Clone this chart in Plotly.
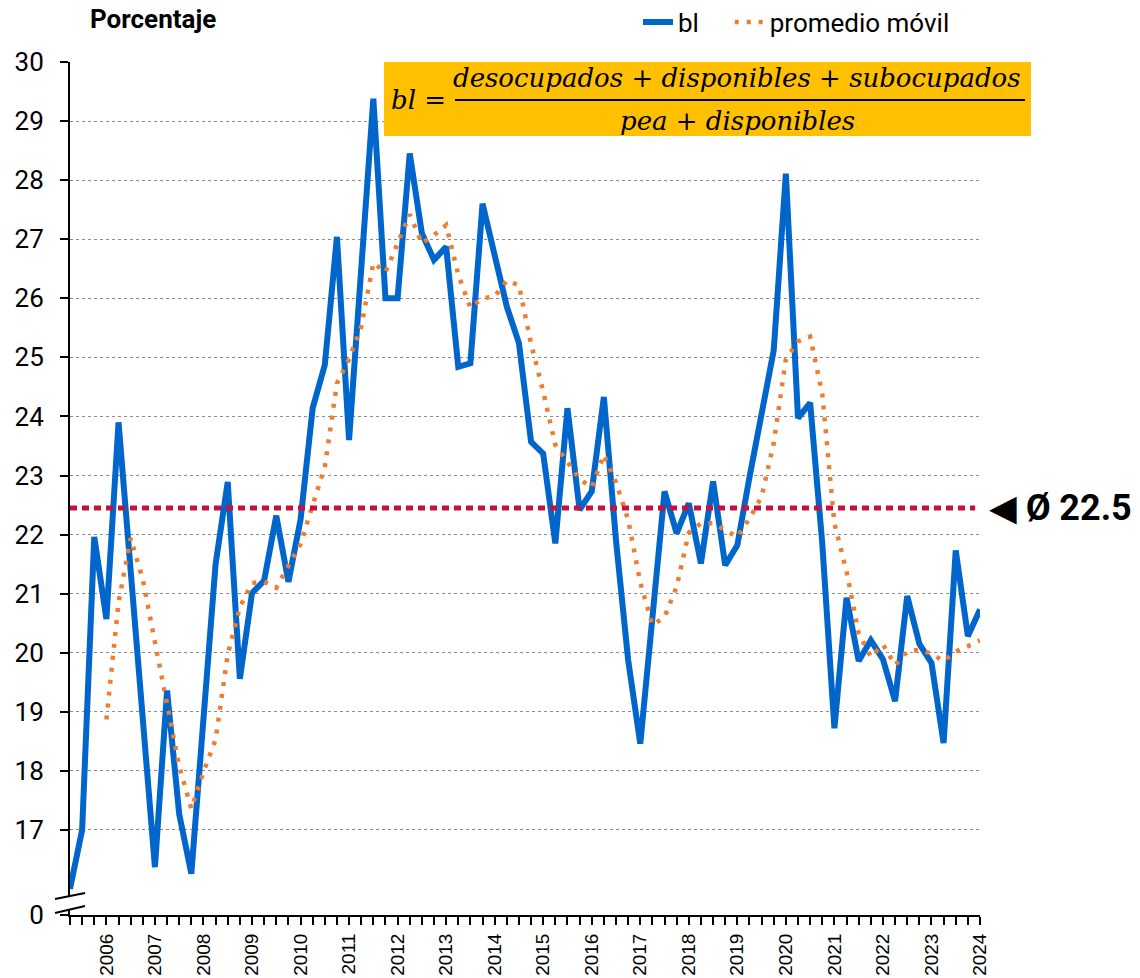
import plotly.graph_objects as go

# ---------------- data ----------------
years = [str(y) for y in range(2006, 2025)]
quarters = [f"{y}-T{q}" for y in range(2006, 2025) for q in range(1, 5)]

bl = [16.0, 17.0, 21.96, 20.57, 23.9, 21.4, 19.0, 16.37, 19.36, 17.27,
      16.26, 19.0, 21.5, 22.89, 19.56, 21.01, 21.22, 22.32, 21.2, 22.25,
      24.14, 24.87, 27.04, 23.6, 26.4, 29.38, 26.0, 26.0, 28.45, 27.1,
      26.65, 26.87, 24.84, 24.9, 27.6, 26.7, 25.86, 25.24, 23.57, 23.37,
      21.85, 24.14, 22.42, 22.73, 24.33, 21.9, 19.88, 18.46, 20.64, 22.73,
      22.02, 22.53, 21.51, 22.9, 21.48, 21.82, 22.97, 24.1, 25.12, 28.11,
      23.97, 24.23, 21.85, 18.72, 20.93, 19.86, 20.21, 19.89, 19.18, 20.96,
      20.15, 19.83, 18.47, 21.73, 20.28, 20.73]

promedio_movil = [None, None, None, 18.87, 20.85, 21.94, 21.24, 20.18, 19.1, 18.08,
                  17.36, 17.98, 18.53, 19.97, 20.77, 21.18, 21.2, 21.1, 21.47, 21.84,
                  22.5, 23.14, 24.56, 24.97, 25.52, 26.6, 26.44, 26.93, 27.42, 26.93,
                  27.07, 27.24, 26.4, 25.84, 26.0, 26.03, 26.3, 26.22, 25.23, 24.42,
                  23.52, 23.23, 22.94, 22.8, 23.35, 22.88, 22.25, 21.19, 20.47, 20.6,
                  21.12, 22.03, 22.19, 22.19, 22.08, 21.96, 22.27, 22.64, 23.55, 24.97,
                  25.27, 25.35, 24.38, 22.19, 21.38, 20.33, 19.93, 20.14, 19.79, 20.02,
                  20.05, 19.98, 19.86, 20.02, 20.11, 20.21]

promedio = 22.45
promedio_label = "22.5"

y_base = 15.56            # position of the broken-axis "0"
y_ticks = [y_base] + list(range(17, 31))
y_ticktext = ["0"] + [str(v) for v in range(17, 31)]

x_ticktext = [q.split("-")[0] if q.endswith("T4") else "" for q in quarters]

# ---------------- layout geometry ----------------
W, H = 1140, 978
PAGE_OFF = 8                      # default body margin of the page
REF_L, REF_T, REF_R, REF_B = 70, 62, 980, 915   # plot-area box in the picture
L, T = REF_L - PAGE_OFF, REF_T - PAGE_OFF
R, B = W - (REF_R - PAGE_OFF), H - (REF_B - PAGE_OFF)


def px(xr):
    return (xr - REF_L) / (REF_R - REF_L)


def py(yr):
    return (REF_B - yr) / (REF_B - REF_T)


fig = go.Figure()

fig.add_trace(go.Scatter(
    x=quarters, y=bl, name="bl\u00a0\u00a0\u00a0\u00a0", mode="lines",
    line=dict(color="#0066CC", width=6),
))
fig.add_trace(go.Scatter(
    x=quarters, y=promedio_movil, name="promedio móvil", mode="lines",
    line=dict(color="#ED7D31", width=4.5, dash="4px,8px"),
))

shapes = []
# average line
shapes.append(dict(type="line", xref="x", yref="y", x0=0, x1=74.6,
                   y0=promedio, y1=promedio,
                   line=dict(color="#C8103E", width=5, dash="7px,5px"), layer="above"))
# formula box
shapes.append(dict(type="rect", xref="paper", yref="paper",
                   x0=px(384), x1=px(1031), y0=py(136), y1=py(62),
                   fillcolor="#FFC000", line=dict(width=0), layer="above"))
# fraction bar
shapes.append(dict(type="line", xref="paper", yref="paper",
                   x0=px(455), x1=px(1025), y0=py(100), y1=py(100),
                   line=dict(color="black", width=2), layer="above"))
# axis break
shapes.append(dict(type="path", xref="paper", yref="paper",
                   path=f"M {px(60)} {py(898)} L {px(80)} {py(894)} L {px(80)} {py(907.5)} L {px(60)} {py(912)} Z",
                   fillcolor="white", line=dict(width=0), layer="above"))
shapes.append(dict(type="line", xref="paper", yref="paper",
                   x0=px(55), x1=px(85), y0=py(899), y1=py(893),
                   line=dict(color="black", width=2), layer="above"))
shapes.append(dict(type="line", xref="paper", yref="paper",
                   x0=px(55), x1=px(85), y0=py(913), y1=py(906),
                   line=dict(color="black", width=2), layer="above"))

annotations = []
serif = "DejaVu Serif"
annotations.append(dict(xref="paper", yref="paper", x=px(418), y=py(100),
                        text="<i>bl</i> =", showarrow=False,
                        font=dict(family=serif, size=26, color="black"),
                        xanchor="center", yanchor="middle"))
annotations.append(dict(xref="paper", yref="paper", x=px(737), y=py(78),
                        text="<i>desocupados</i> + <i>disponibles</i> + <i>subocupados</i>",
                        showarrow=False, font=dict(family=serif, size=26, color="black"),
                        xanchor="center", yanchor="middle"))
annotations.append(dict(xref="paper", yref="paper", x=px(737), y=py(121),
                        text="<i>pea</i> + <i>disponibles</i>",
                        showarrow=False, font=dict(family=serif, size=26, color="black"),
                        xanchor="center", yanchor="middle"))
annotations.append(dict(xref="paper", yref="y", x=px(987), y=promedio,
                        text="<b>◀ Ø " + promedio_label + "</b>", showarrow=False,
                        font=dict(family="Roboto, DejaVu Sans", size=36, color="black"),
                        xanchor="left", yanchor="middle"))
annotations.append(dict(xref="paper", yref="paper", x=px(88), y=py(36),
                        text="<b>Porcentaje</b>", showarrow=False,
                        font=dict(family="Roboto", size=26, color="black"),
                        xanchor="left", yanchor="bottom"))

fig.update_layout(
    width=W, height=H,
    margin=dict(l=L, r=R, t=T, b=B, autoexpand=False),
    paper_bgcolor="white", plot_bgcolor="white",
    font=dict(family="Roboto", color="black"),
    showlegend=True,
    legend=dict(orientation="h", x=px(638), y=py(22), xanchor="left", yanchor="middle",
                font=dict(family="Roboto", size=26, color="black"),
                bgcolor="rgba(0,0,0,0)", itemwidth=30),
    shapes=shapes,
    annotations=annotations,
)

fig.update_xaxes(
    type="category", range=[0, 75],
    tickmode="array", tickvals=quarters, ticktext=x_ticktext,
    tickangle=-90, ticks="outside", ticklen=8, tickwidth=2, tickcolor="black",
    tickfont=dict(family="Liberation Sans", size=19, color="black"),
    ticklabelstandoff=1, automargin=False,
    showline=True, linecolor="black", linewidth=2,
    showgrid=False, zeroline=False,
)
fig.update_yaxes(
    range=[y_base, 30],
    tickmode="array", tickvals=y_ticks, ticktext=y_ticktext,
    ticks="outside", ticklen=8, tickwidth=2, tickcolor="black",
    tickfont=dict(family="Roboto", size=26, color="black"),
    ticklabelstandoff=11, automargin=False,
    showline=True, linecolor="black", linewidth=2,
    showgrid=True, gridcolor="#8c8c8c", gridwidth=1, griddash="dot",
    zeroline=False,
)

fig.write_html("out.html")
